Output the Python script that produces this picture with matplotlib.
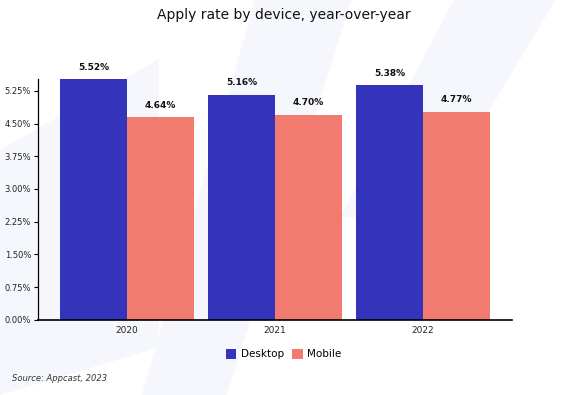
import matplotlib
matplotlib.use("Agg")
import matplotlib.pyplot as plt
from matplotlib.patches import Polygon
import numpy as np

years = ["2020", "2021", "2022"]
desktop = [5.52, 5.16, 5.38]
mobile = [4.64, 4.70, 4.77]
yticks = [0, 0.75, 1.5, 2.25, 3.0, 3.75, 4.5, 5.25]

plt.rcParams['font.family'] = ['DejaVu Sans']
fig = plt.figure(figsize=(5.67, 3.95), dpi=100)
fig.patch.set_facecolor('white')

# faint background shapes
for pts in [[(0.0, 0.62), (0.28, 0.85), (0.28, 0.12), (0.0, 0.0)],
            [(0.45, 1.0), (0.62, 1.0), (0.40, 0.0), (0.25, 0.0)],
            [(0.80, 1.0), (0.98, 1.0), (0.75, 0.45), (0.60, 0.45)]]:
    fig.patches.append(Polygon(pts, closed=True, transform=fig.transFigure,
                               facecolor='#F5F7FC', edgecolor='none', zorder=-10))

ax = fig.add_axes([0.067, 0.19, 0.836, 0.61])
ax.set_facecolor('none')
x = np.arange(len(years))
w = 0.45
b1 = ax.bar(x - w/2, desktop, w, color='#3333BB', label='Desktop', zorder=2)
b2 = ax.bar(x + w/2, mobile, w, color='#F07B6E', label='Mobile', zorder=2)
for rect, v in zip(list(b1) + list(b2), desktop + mobile):
    ax.text(rect.get_x() + rect.get_width()/2, v + 0.17, f"{v:.2f}%",
            ha='center', va='bottom', fontsize=6.5, fontweight='bold', color='#111111')

ax.set_xlim(-0.6, 2.6)
ax.set_ylim(0, 5.52)
ax.set_yticks(yticks)
ax.set_yticklabels([f"{t:.2f}%" for t in yticks], fontsize=6, color='#222222')
ax.set_xticks(x)
ax.set_xticklabels(years, fontsize=6.5, color='#222222')
ax.tick_params(axis='x', length=0, pad=4)
ax.tick_params(axis='y', length=3, width=0.8, pad=2)
for s in ['top', 'right']:
    ax.spines[s].set_visible(False)
ax.spines['left'].set_linewidth(0.9)
ax.spines['bottom'].set_linewidth(1.2)

fig.text(0.5, 0.962, "Apply rate by device, year-over-year", ha='center', va='center',
         fontsize=10, color='#111111')
fig.legend(handles=[b1, b2], labels=['Desktop', 'Mobile'], loc='center',
           bbox_to_anchor=(0.5, 0.103), ncol=2, frameon=False, fontsize=7.5,
           handlelength=1.0, handleheight=1.0, handletextpad=0.4, columnspacing=0.8)
fig.text(0.021, 0.043, "Source: Appcast, 2023", ha='left', va='center',
         fontsize=6, style='italic', color='#333333')

fig.savefig("out.png", dpi=100)
